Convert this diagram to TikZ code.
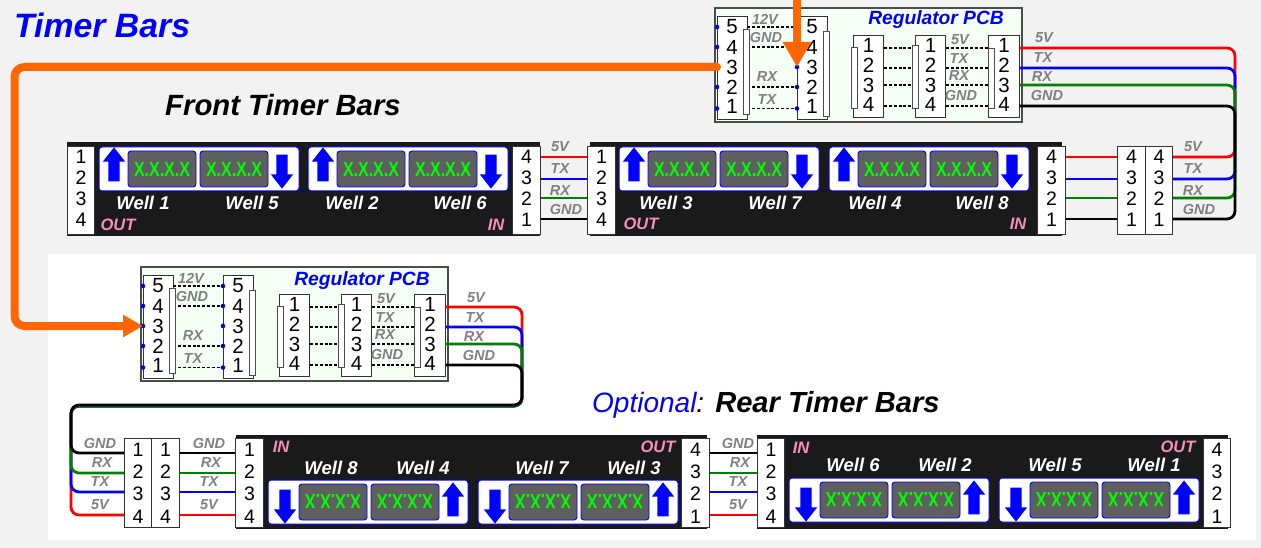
\documentclass[tikz,border=0pt]{standalone}
\usepackage{fontspec}
\setmainfont{Liberation Sans}
\usetikzlibrary{arrows.meta}
\usetikzlibrary{shapes.arrows}
\definecolor{page_gray}{HTML}{F2F2F2}
\definecolor{bar_black}{HTML}{1A1A1A}
\definecolor{display_gray}{HTML}{5F5F5F}
\definecolor{pcb_green}{HTML}{F5FFF5}
\definecolor{out_pink}{HTML}{F48FB8}
\definecolor{lamp_green}{HTML}{00FF00}
\definecolor{wire_green}{HTML}{008000}
\definecolor{feed_orange}{HTML}{FF6600}
\newcommand{\lampdigits}{\scalebox{0.78}[1]{X.X.X.X}}
\tikzset{
        % Pin blocks
        pin_body/.style={rectangle, draw=black!80, fill=white, line width=0.9pt, inner sep=0pt},
        pin_strip/.style={rectangle, draw=black!70, fill=white, line width=0.8pt, inner sep=0pt, minimum width=6pt},
        pin_num/.style={inner sep=0pt, black, font=\fontsize{19.5}{20}\selectfont},
        pin_dot/.style={circle, fill=blue, inner sep=0pt, minimum size=4.6pt},
        % Timer bars
        bar_body/.style={rectangle, fill=bar_black, inner sep=0pt},
        well_panel/.style={rectangle, rounded corners=3pt, draw=blue, fill=white, line width=1pt, inner sep=0pt, minimum width=200pt, minimum height=44pt},
        well_display/.style={rectangle, rounded corners=3pt, draw=blue, fill=display_gray, line width=0.9pt, inner sep=0pt, minimum width=68pt, minimum height=36pt, text=lamp_green, font=\fontsize{20.5}{21}\selectfont\bfseries},
        well_arrow/.style={single arrow, fill=blue, inner sep=0pt, text height=11pt, text depth=0pt, minimum height=34pt, single arrow head extend=5.5pt, single arrow tip angle=76},
        well_name/.style={white, inner sep=0pt, font=\fontsize{18.5}{19}\selectfont\bfseries\itshape},
        bar_end/.style={out_pink, inner sep=0pt, font=\fontsize{16.5}{17}\selectfont\bfseries\itshape},
        % Wires
        wire/.style={line width=2.8pt, rounded corners=8pt},
        pcb_trace/.style={black, line width=1.2pt, dash pattern=on 3pt off 1.8pt},
        line_label/.style={black!50, inner sep=0pt, font=\fontsize{14.5}{15}\selectfont\bfseries\itshape},
        feed/.style={feed_orange, line width=8pt, line cap=round, rounded corners=10pt},
        % Titles
        title_text/.style={anchor=west, inner sep=0pt, font=\bfseries\itshape}
}
\begin{document}
\begin{tikzpicture}[x=1pt, y=-1pt]
    \useasboundingbox (0,0) rectangle (1261,548);
    \fill[page_gray] (0,0) rectangle (1261,548);
    \fill[white] (48,254) rectangle (1256,540);

    % Titles
    \node[title_text, blue, font=\fontsize{33.8}{34}\selectfont\bfseries\itshape] (title_main) at (14,25) {Timer Bars};
    \node[title_text, font=\fontsize{29.3}{30}\selectfont\bfseries\itshape] (title_front) at (165,105) {Front Timer Bars};
    \node[title_text, font=\fontsize{28}{30}\selectfont\itshape] (title_rear) at (592,405) {\textcolor{blue}{Optional}:\hspace{11pt}\fontsize{29.1}{30}\selectfont\textbf{Rear Timer Bars}};

    % Bars
    \foreach \blk/\x/\y/\w in {front_a/303.5/189/473, front_b/826/189/472, rear_a/471.5/482/471, rear_b/992.5/482/471}
        \node[bar_body, minimum width=\w pt, minimum height=94pt] (\blk) at (\x,\y) {};

    % Well panels, the rear ones are turned over but keep their arrows on the outside
    \foreach \pnl/\x/\y/\rot/\rota/\rotb in {pa/199/169/0/90/-90, pb/408/169/0/90/-90, pc/719/169/0/90/-90, pd/929/169/0/90/-90,
                                             pe/368/502/180/-90/90, pf/578/502/180/-90/90, pg/889/500/180/-90/90, ph/1099/500/180/-90/90} {
        \begin{scope}[shift={(\x,\y)}, rotate=\rot, transform shape]
            \node[well_panel] (\pnl) at (0,0) {};
            \node[well_display] (\pnl-left) at (-37,0) {\lampdigits};
            \node[well_display] (\pnl-right) at (35,0) {\lampdigits};
            \node[well_arrow, rotate=\rota] (\pnl-first) at (-85,-1) {};
            \node[well_arrow, rotate=\rotb] (\pnl-last) at (83,-1) {};
        \end{scope}
    }
    \foreach \well/\x/\y in {1/143/203, 5/252/203, 2/352/203, 6/460/203, 3/666/203, 7/775/203, 4/875/203, 8/982/203,
                             8/331/468, 4/423/468, 7/542/468, 3/634/468, 6/853/465, 2/945/465, 5/1055/465, 1/1154/465}
        \node[well_name] (well-\well-\x) at (\x,\y) {Well \well};
    \foreach \txt/\x/\y in {OUT/118/225, IN/496/225, OUT/641/224, IN/1018/224, IN/281/447, OUT/658/447, IN/801/448, OUT/1178/447}
        \node[bar_end] (end-\x) at (\x,\y) {\txt};

    % Front pin blocks
    \foreach \blk/\x/\pa/\pb/\pc/\pd in {fa/81/1/2/3/4, fb/526.5/4/3/2/1, fc/601.5/1/2/3/4, fd/1051.5/4/3/2/1, fe/1131.5/4/3/2/1, ff/1159/4/3/2/1} {
        \node[pin_body, minimum width=27.5pt, minimum height=88pt] (\blk) at (\x,190) {};
        \foreach \i/\n/\yd/\yw in {1/\pa/157/157, 2/\pb/178/179, 3/\pc/199/198, 4/\pd/220/219} {
            \node[pin_num] (\blk-d\n) at (\x,\yd) {\n};
            \coordinate (\blk-r\i) at (\x,\yw);
        }
    }
    % Rear pin blocks
    \foreach \blk/\x/\pa/\pb/\pc/\pd in {ra/249.5/1/2/3/4, rb/695.5/4/3/2/1, rc/771/1/2/3/4, rd/1217/4/3/2/1, re/138/1/2/3/4, rf/165.5/1/2/3/4} {
        \node[pin_body, minimum width=27.5pt, minimum height=89pt] (\blk) at (\x,482.5) {};
        \foreach \i/\n/\yd/\yw in {1/\pa/450/453, 2/\pb/472/473, 3/\pc/494/492, 4/\pd/517/515} {
            \node[pin_num] (\blk-d\n) at (\x,\yd) {\n};
            \coordinate (\blk-r\i) at (\x,\yw);
        }
    }

    % Regulator boards
    \foreach \pcb/\dx/\dy/\ny in {up/0/0/20, low/-574/259/22} {
        \begin{scope}[shift={(\dx,\dy)}]
            \node[rectangle, draw=black!70, fill=pcb_green, line width=1.2pt, minimum width=307pt, minimum height=114pt, inner sep=0pt] (\pcb) at (868.5,65) {};
            \node[blue, inner sep=0pt, font=\fontsize{19.2}{20}\selectfont\bfseries\itshape] (\pcb-name) at (936,\ny) {Regulator PCB};
            % Five pin blocks
            \foreach \blk/\x/\xd in {a/732/717, b/812/797} {
                \node[pin_body, minimum width=30pt, minimum height=103pt] (\pcb-\blk) at (\x,67.5) {};
                \foreach \n/\yd/\yw in {5/27/27, 4/47/47, 3/67/67, 2/87/87, 1/106/108.5}
                    \node[pin_dot] (\pcb-\blk-dot\n) at (\xd,\yw) {};
            }
            % Four pin blocks
            \foreach \blk/\x in {c/868.5, d/930.5, e/1004} {
                \node[pin_body, minimum width=30.5pt, minimum height=82pt] (\pcb-\blk) at (\x,76) {};
                \foreach \n/\yw in {1/48, 2/68, 3/85, 4/106}
                    \coordinate (\pcb-\blk-r\n) at (\x,\yw);
            }
            % Traces on the board
            \foreach \n in {5,4,2,1}
                \draw[pcb_trace] (\pcb-a.east |- \pcb-a-dot\n) -- (\pcb-b-dot\n.center);
            \foreach \n in {1,2,3,4} {
                \draw[pcb_trace] (\pcb-c.east |- \pcb-c-r\n) -- (\pcb-d.west |- \pcb-d-r\n);
                \draw[pcb_trace] (\pcb-d.east |- \pcb-d-r\n) -- (\pcb-e.west |- \pcb-e-r\n);
            }
            \foreach \blk/\x/\y/\h in {a/746/71.5/85, b/826/73.5/85, c/854/77.5/61, d/915/76.5/63, e/991/78/60}
                \node[pin_strip, minimum height=\h pt] (\pcb-\blk-strip) at (\x,\y) {};
            \foreach \blk/\x in {a/732, b/812} {
                \foreach \n/\yd in {5/27, 4/47, 3/67, 2/87, 1/106}
                    \node[pin_num, font=\fontsize{20.5}{21}\selectfont] (\pcb-\blk-d\n) at (\x,\yd) {\n};
            }
            \foreach \blk/\x in {c/868.5, d/930.5, e/1004} {
                \foreach \n/\yd in {1/45, 2/65, 3/85, 4/104}
                    \node[pin_num, font=\fontsize{20.5}{21}\selectfont] (\pcb-\blk-d\n) at (\x,\yd) {\n};
            }
            \foreach \txt/\x/\y in {12V/765/19, GND/766/38, RX/767/77, TX/767/100, 5V/960/40, TX/959/59, RX/959/76, GND/961/96}
                \node[line_label] (\pcb-\txt-\x) at (\x,\y) {\txt};
        \end{scope}
    }

    % Wires between the pin blocks and back from the boards
    \coordinate (bend_front) at (1235,100);
    \coordinate (bend_rear_r) at (522,405);
    \coordinate (bend_rear_l) at (71,405);
    \foreach \r/\rr/\col/\sag in {1/4/red/1, 2/3/blue/1.2, 3/2/wire_green/1, 4/1/black/0} {
        \draw[wire, draw=\col] (fb.east |- fb-r\r) -- (fc.west |- fc-r\r);
        \draw[wire, draw=\col] (fd.east |- fd-r\r) -- (fe.west |- fe-r\r);
        \draw[wire, draw=\col] (rb.east |- rb-r\rr) -- (rc.west |- rc-r\rr);
        \draw[wire, draw=\col] (rf.east |- rf-r\rr) -- (ra.west |- ra-r\rr);
        \draw[wire, draw=\col] (up-e.east |- up-e-r\r) -- (bend_front |- up-e-r\r) -- (bend_front |- ff-r\r) -- (ff.east |- ff-r\r);
        \draw[wire, draw=\col] (low-e.east |- low-e-r\r) -- (bend_rear_r |- low-e-r\r) -- ([yshift=-\sag pt]bend_rear_r) -- ([yshift=-\sag pt]bend_rear_l) -- (bend_rear_l |- re-r\rr) -- (re.west |- re-r\rr);
    }

    % Wire labels
    \foreach \x in {560,1193} {
        \foreach \txt/\y/\off in {5V/146.5/0, TX/168.5/0, RX/190.5/0, GND/209.5/6}
            \node[line_label] (lbl-\x-\txt) at (\x+\off,\y) {\txt};
    }
    \foreach \x/\y in {1044/38, 476/298} {
        \foreach \txt/\yy/\off in {5V/0/0, TX/20/-1, RX/39/-2, GND/58/3}
            \node[line_label] (lbl-\x-\txt) at (\x+\off,\y+\yy) {\txt};
    }
    \foreach \x in {100,209,738} {
        \foreach \txt/\y/\off in {GND/444/0, RX/463/2, TX/482/0, 5V/505/0}
            \node[line_label] (lbl-\x-\txt) at (\x+\off,\y) {\txt};
    }

    % Orange feed from the top board to the rear board
    \coordinate (feed_in) at (797,-8);
    \coordinate (feed_bend) at (14.5,200);
    \draw[feed, -{Triangle[length=25pt,width=27pt]}] (feed_in) -- (up-b-dot3.center);
    \draw[feed, -{Triangle[length=20pt,width=21pt]}] (up-a-dot3.center) -- (feed_bend |- up-a-dot3) -- (feed_bend |- low-a-dot3) -- (low-a-dot3.center);
\end{tikzpicture}
\end{document}
